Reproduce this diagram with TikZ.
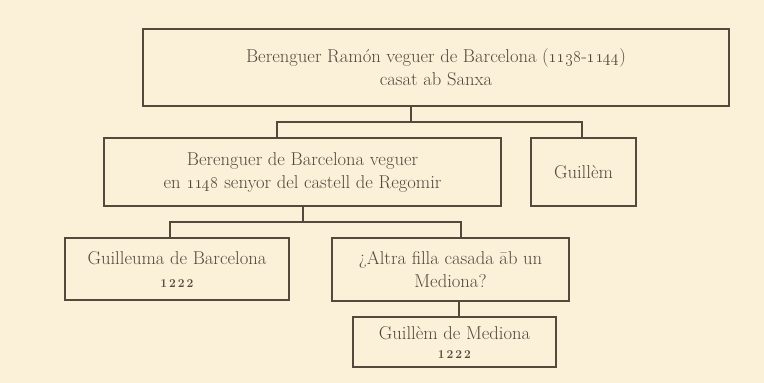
\documentclass[tikz,border=0pt]{standalone}
\usepackage{xcolor}
\usepackage{tikz}
\definecolor{papercol}{HTML}{FBF1D9}
\definecolor{inkcol}{HTML}{55493B}
\definecolor{textcol}{HTML}{54483B}
\newcommand{\yearnum}[2]{{\fontsize{#1}{14}\selectfont\bfseries #2}}
\tikzstyle{famibox} = [draw=inkcol, line width=1.6pt, rectangle, inner sep=0pt,
align=center, text=textcol, font=\fontsize{18.6}{23}\selectfont]
\tikzstyle{linkline} = [draw=inkcol, line width=1.6pt]

\begin{document}
\begin{tikzpicture}[x=1pt,y=-1pt]
    \fill[papercol] (0,0) rectangle (764,383);
    \useasboundingbox (0,0) rectangle (764,383);
    % generacio 1
    \node [famibox, minimum width=586pt, minimum height=77pt] (ramon) at (436,67.5)
        {Berenguer Ramón veguer de Barcelona (\oldstylenums{1138}-\oldstylenums{1144})\\casat ab Sanxa};
    % generacio 2
    \node [famibox, minimum width=397pt, minimum height=68pt] (berenguer) at (302.5,172)
        {Berenguer de Barcelona veguer\\en \oldstylenums{1148} senyor del castell de Regomir};
    \node [famibox, minimum width=105pt, minimum height=68pt] (guillem) at (583.5,172)
        {Guillèm};
    % generacio 3
    \node [famibox, minimum width=224pt, minimum height=62pt] (guilleuma) at (177,269)
        {Guilleuma de Barcelona\\\yearnum{12}{1\,2\,2\,2}};
    \node [famibox, minimum width=237pt, minimum height=63pt] (altra) at (450.5,269.5)
        {¿Altra filla casada āb un\\Mediona?};
    \node [famibox, minimum width=203pt, minimum height=50pt] (mediona) at (454.5,342)
        {Guillèm de Mediona\\[-4pt]\yearnum{12}{1\,2\,2\,2}};
    % lligams
    \coordinate (forkA) at (411,122);
    \coordinate (forkB) at (303,222);
    \draw [linkline] (ramon.south -| forkA) -- (forkA);
    \draw [linkline] ([xshift=-25.5pt]berenguer.north) |- (forkA) -| ([xshift=-1.5pt]guillem.north);
    \draw [linkline] (berenguer.south -| forkB) -- (forkB);
    \draw [linkline] ([xshift=-7pt]guilleuma.north) |- (forkB) -| ([xshift=10.5pt]altra.north);
    \draw [linkline] ([xshift=8.5pt]altra.south) -- ([xshift=4.5pt]mediona.north);
\end{tikzpicture}
\end{document}
